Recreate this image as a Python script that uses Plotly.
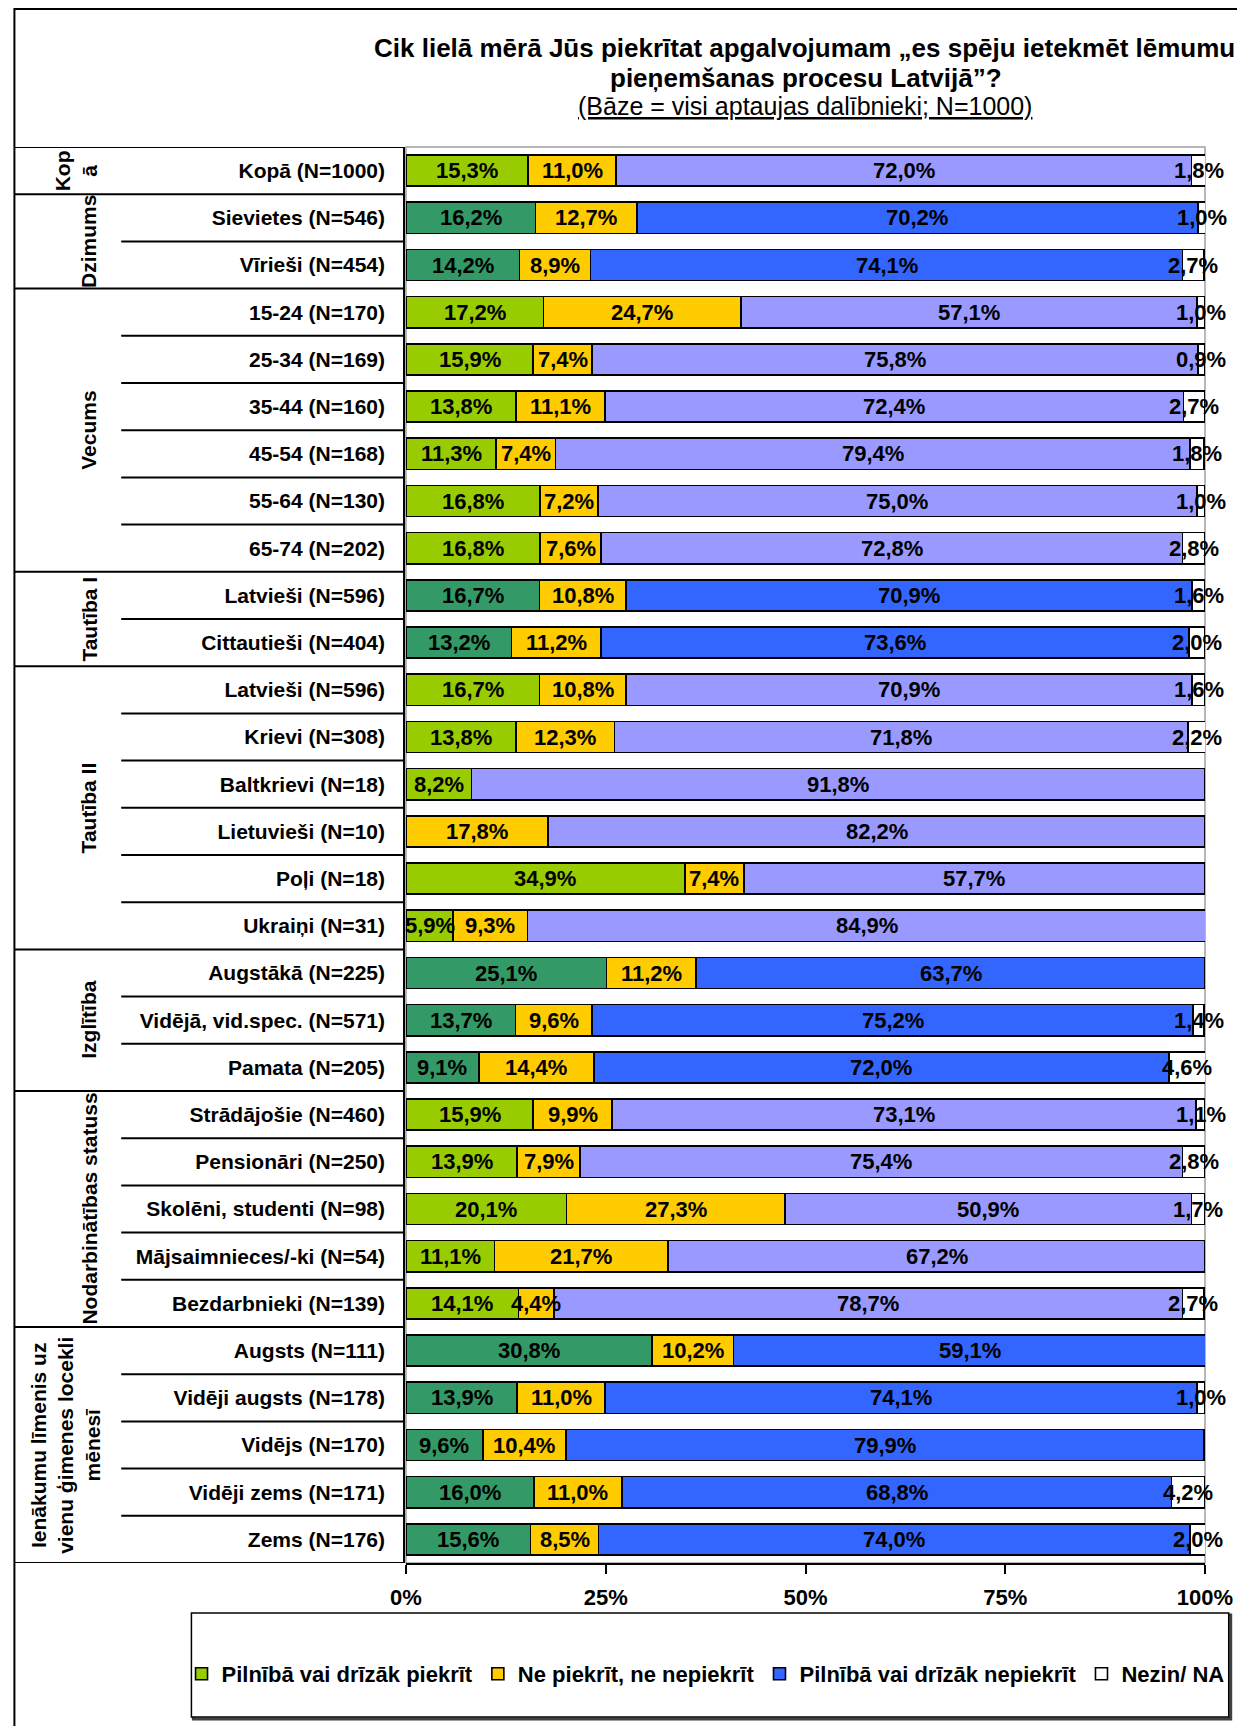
import plotly.graph_objects as go

# ---------------- data ----------------
row_labels = [
    "Kopā (N=1000)",
    "Sievietes (N=546)", "Vīrieši (N=454)",
    "15-24 (N=170)", "25-34 (N=169)", "35-44 (N=160)", "45-54 (N=168)", "55-64 (N=130)", "65-74 (N=202)",
    "Latvieši (N=596)", "Cittautieši (N=404)",
    "Latvieši (N=596)", "Krievi (N=308)", "Baltkrievi (N=18)", "Lietuvieši (N=10)", "Poļi (N=18)", "Ukraiņi (N=31)",
    "Augstākā (N=225)", "Vidējā, vid.spec. (N=571)", "Pamata (N=205)",
    "Strādājošie (N=460)", "Pensionāri (N=250)", "Skolēni, studenti (N=98)", "Mājsaimnieces/-ki (N=54)", "Bezdarbnieki (N=139)",
    "Augsts (N=111)", "Vidēji augsts (N=178)", "Vidējs (N=170)", "Vidēji zems (N=171)", "Zems (N=176)",
]

agree = [15.3, 16.2, 14.2, 17.2, 15.9, 13.8, 11.3, 16.8, 16.8, 16.7, 13.2, 16.7, 13.8, 8.2, 0.0, 34.9, 5.9,
         25.1, 13.7, 9.1, 15.9, 13.9, 20.1, 11.1, 14.1, 30.8, 13.9, 9.6, 16.0, 15.6]
neutral = [11.0, 12.7, 8.9, 24.7, 7.4, 11.1, 7.4, 7.2, 7.6, 10.8, 11.2, 10.8, 12.3, 0.0, 17.8, 7.4, 9.3,
           11.2, 9.6, 14.4, 9.9, 7.9, 27.3, 21.7, 4.4, 10.2, 11.0, 10.4, 11.0, 8.5]
disagree = [72.0, 70.2, 74.1, 57.1, 75.8, 72.4, 79.4, 75.0, 72.8, 70.9, 73.6, 70.9, 71.8, 91.8, 82.2, 57.7, 84.9,
            63.7, 75.2, 72.0, 73.1, 75.4, 50.9, 67.2, 78.7, 59.1, 74.1, 79.9, 68.8, 74.0]
dontknow = [1.8, 1.0, 2.7, 1.0, 0.9, 2.7, 1.8, 1.0, 2.8, 1.6, 2.0, 1.6, 2.2, 0.0, 0.0, 0.0, 0.0,
            0.0, 1.4, 4.6, 1.1, 2.8, 1.7, 0.0, 2.7, 0.0, 1.0, 0.0, 4.2, 2.0]

series_names = ["Pilnībā vai drīzāk piekrīt", "Ne piekrīt, ne nepiekrīt",
                "Pilnībā vai drīzāk nepiekrīt", "Nezin/ NA"]

group_names = ["Kop<br>ā", "Dzimums", "Vecums", "Tautība I", "Tautība II", "Izglītība",
               "Nodarbinātības statuss", "Ienākumu līmenis uz<br>vienu ģimenes locekli<br>mēnesī"]
group_sizes = [1, 2, 6, 2, 6, 3, 5, 5]
group_dark = [False, True, False, True, False, True, False, True]

x_ticks = [0, 25, 50, 75, 100]
x_ticktext = ["0%", "25%", "50%", "75%", "100%"]

title_l1 = "Cik lielā mērā Jūs piekrītat apgalvojumam „es spēju ietekmēt lēmumu"
title_l2 = "pieņemšanas procesu Latvijā”?"
title_l3 = "(Bāze = visi aptaujas dalībnieki; N=1000)"

# ---------------- styles ----------------
OFF = 8  # page body margin
W, H = 1237, 1718
ML, MR, MT, MB = 398, 31, 139, 163
PW, PH = W - ML - MR, H - MT - MB
FONT = "Arial, Liberation Sans, sans-serif"

C_GREEN_L, C_GREEN_D = "#99CC00", "#339966"
C_YELLOW = "#FFCC00"
C_BLUE_L, C_BLUE_D = "#9999FF", "#3366FF"
C_WHITE = "#FFFFFF"


def px_x(x):
    return (x - OFF - ML) / PW


def px_y(y):
    return (H - MB - (y - OFF)) / PH


row_dark = []
for d, n in zip(group_dark, group_sizes):
    row_dark += [d] * n

ypos = list(range(len(row_labels)))


def fmt(v):
    return ("%.1f%%" % v).replace(".", ",")


def subset(vals, mask):
    return [v if (m and v > 0) else None for v, m in zip(vals, mask)]


light_mask = [not d for d in row_dark]
dark_mask = row_dark
all_mask = [True] * len(row_labels)

traces_spec = [
    (agree, light_mask, C_GREEN_L, series_names[0], True, 1),
    (agree, dark_mask, C_GREEN_D, series_names[0], False, 1),
    (neutral, all_mask, C_YELLOW, series_names[1], True, 2),
    (disagree, light_mask, C_BLUE_L, series_names[2], False, 3),
    (disagree, dark_mask, C_BLUE_D, series_names[2], True, 3),
    (dontknow, all_mask, C_WHITE, series_names[3], True, 4),
]

fig = go.Figure()
for vals, mask, color, name, show, rank in traces_spec:
    fig.add_trace(go.Bar(
        y=ypos, x=subset(vals, mask), orientation="h", name=name, showlegend=show,
        legendgroup=name, legendrank=rank,
        marker=dict(color=color, line=dict(color="#000000", width=1.6)),
        cliponaxis=False, hoverinfo="skip",
    ))

fig.update_layout(
    width=W, height=H,
    margin=dict(l=ML, r=MR, t=MT, b=MB, pad=0),
    barmode="stack", bargap=0.34,
    plot_bgcolor="#FFFFFF", paper_bgcolor="#FFFFFF",
    font=dict(family=FONT, size=20, color="#000000"),
    showlegend=True,
    legend=dict(
        orientation="h", x=px_x(179), xanchor="left", y=px_y(1674), yanchor="middle",
        font=dict(family=FONT, size=22, color="#000000", weight="bold"),
        bgcolor="rgba(0,0,0,0)", borderwidth=0, itemwidth=30,
        traceorder="normal", tracegroupgap=0,
    ),
)

fig.update_xaxes(
    range=[0, 100], tickvals=x_ticks, ticktext=x_ticktext,
    ticks="outside", ticklen=9, tickwidth=1.5, tickcolor="#000000",
    showline=True, linecolor="#000000", linewidth=1.5,
    showgrid=False, zeroline=False, ticklabelstandoff=5,
    tickfont=dict(family=FONT, size=22, color="#000000", weight="bold"),
)
fig.update_yaxes(
    range=[len(row_labels) - 0.5, -0.5], tickvals=ypos, ticktext=row_labels,
    ticks="", showgrid=False, zeroline=False, showline=False,
    ticklabelstandoff=20,
    tickfont=dict(family=FONT, size=21, color="#000000", weight="bold"),
)

shapes = []
shapes.append(dict(type="rect", xref="paper", yref="paper", x0=0, x1=1, y0=0, y1=1,
                   line=dict(color="#A0A0A0", width=1.5), layer="below"))
tab_l, tab_m, tab_r = px_x(10), px_x(118), px_x(404)
n_rows = len(row_labels)
start = 0
for n in group_sizes:
    shapes.append(dict(type="line", xref="paper", yref="y", x0=tab_l, x1=tab_r,
                       y0=start - 0.5, y1=start - 0.5, line=dict(color="#000000", width=2)))
    for k in range(1, n):
        yy = start + k - 0.5
        shapes.append(dict(type="line", xref="paper", yref="y", x0=tab_m, x1=tab_r,
                           y0=yy, y1=yy, line=dict(color="#000000", width=2)))
    start += n
shapes.append(dict(type="line", xref="paper", yref="y", x0=tab_l, x1=tab_r,
                   y0=n_rows - 0.5, y1=n_rows - 0.5, line=dict(color="#000000", width=2)))
shapes.append(dict(type="line", xref="paper", yref="y", x0=tab_r, x1=tab_r,
                   y0=-0.5, y1=n_rows - 0.5, line=dict(color="#000000", width=2)))
# legend box with shadow
shapes.append(dict(type="rect", xref="paper", yref="paper",
                   x0=px_x(191), x1=px_x(1240), y0=px_y(1615), y1=px_y(1719),
                   line=dict(color="#404040", width=3), layer="below"))
shapes.append(dict(type="rect", xref="paper", yref="paper",
                   x0=px_x(189), x1=px_x(1238), y0=px_y(1613), y1=px_y(1717),
                   fillcolor="#FFFFFF", line=dict(color="#000000", width=1.5), layer="below"))
# outer border (left and top edges visible; right/bottom fall outside the page)
shapes.append(dict(type="rect", xref="paper", yref="paper",
                   x0=px_x(10), x1=px_x(1290), y0=px_y(9), y1=px_y(1780),
                   line=dict(color="#000000", width=2)))
fig.update_layout(shapes=shapes)

annotations = []
# data labels centred in each segment
for i in range(n_rows):
    cum = 0.0
    for vals in (agree, neutral, disagree, dontknow):
        v = vals[i]
        if v > 0:
            annotations.append(dict(
                text=fmt(v), xref="x", yref="y", x=cum + v / 2, y=i,
                xanchor="center", yanchor="middle", showarrow=False,
                font=dict(family=FONT, size=22, color="#000000", weight="bold"),
            ))
        cum += v
# group labels
group_x = [72, 85, 85, 85, 85, 85, 85, 62]
start = 0
for name, n, gx in zip(group_names, group_sizes, group_x):
    annotations.append(dict(
        text=name, xref="paper", yref="y", x=px_x(gx), y=start + (n - 1) / 2,
        xanchor="center", yanchor="middle", textangle=-90, showarrow=False,
        font=dict(family=FONT, size=21, color="#000000", weight="bold"),
    ))
    start += n
# title
annotations.append(dict(text=title_l1, xref="paper", yref="paper", x=px_x(809), y=px_y(48),
                        xanchor="center", yanchor="middle", showarrow=False,
                        font=dict(family=FONT, size=26, color="#000000", weight="bold")))
annotations.append(dict(text=title_l2, xref="paper", yref="paper", x=px_x(810), y=px_y(78),
                        xanchor="center", yanchor="middle", showarrow=False,
                        font=dict(family=FONT, size=26, color="#000000", weight="bold")))
annotations.append(dict(text="<u>" + title_l3 + "</u>", xref="paper", yref="paper", x=px_x(809), y=px_y(106),
                        xanchor="center", yanchor="middle", showarrow=False,
                        font=dict(family=FONT, size=25, color="#000000")))
fig.update_layout(annotations=annotations)

fig.write_html("out.html")
